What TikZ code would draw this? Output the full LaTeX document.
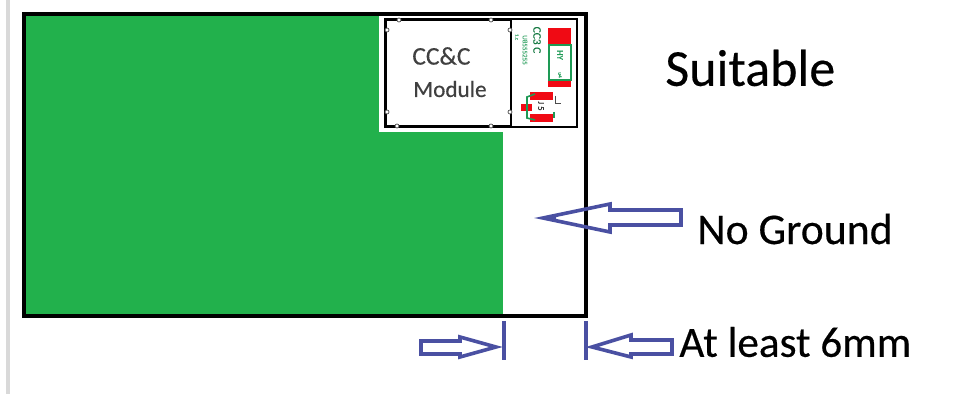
\documentclass[tikz,border=0pt]{standalone}
\usepackage{fontspec}
\setmainfont{Carlito}[FakeBold=0.35]
\definecolor{gndgreen}{HTML}{22B14C}
\definecolor{arrowblue}{HTML}{4A50A2}
\definecolor{padred}{HTML}{F00A14}
\definecolor{silkgreen}{HTML}{1E9A55}
\tikzset{
board/.style={black,line width=4.4\pxu},
thinbox/.style={black,line width=1.4\pxu},
blockarrow/.style={arrowblue,line width=3.6\pxu,line join=miter},
tick/.style={arrowblue,line width=3.4\pxu},
bigtext/.style={anchor=west,inner sep=0pt,text=black},
modtext/.style={anchor=west,inner sep=0pt,text=black!75},
silk/.style={silkgreen,line width=1.6\pxu},
}
\newcommand{\pxu}{*0.5691pt}
\begin{document}
\begin{tikzpicture}[x=0.02cm,y=-0.02cm]
\useasboundingbox (0,0) rectangle (954,394);
\fill[black!15](6,0) rectangle (10,394);
% ground area with cut out corner
\fill[gndgreen](24,14) rectangle (503,316);
\fill[white](379,16) rectangle (584,132);
\draw[board](24,14) rectangle (586,316);
% module
\draw[thinbox](385,19) rectangle (577,127);
\draw[black,line width=2\pxu](386,20) rectangle (511,126);
\foreach \x in {399,491}{\draw[black!70,fill=white,line width=.7\pxu](\x,20) circle (2);}
\foreach \x in {397,491}{\draw[black!70,fill=white,line width=.7\pxu](\x,126) circle (2);}
\foreach \y in {30,112}{
\draw[black!70,fill=white,line width=.7\pxu](387,\y) circle (2);
\draw[black!70,fill=white,line width=.7\pxu](510,\y) circle (2);
}
\node[modtext,font=\fontsize{14.5}{16}\selectfont] (cclabel) at (412,56) {CC\&C};
\node[modtext,font=\fontsize{13.2}{16}\selectfont] (modlabel) at (413,89) {Module};
% parts on the right of the module
\fill[padred](548,28) rectangle (571,45);
\fill[padred](548,80) rectangle (571,87);
\draw[silk](549,45) rectangle (571,80);
\node[silkgreen,rotate=-90,inner sep=0pt,font=\fontsize{5}{5}\selectfont] (hylabel) at (560,55) {HY};
\node[silkgreen,rotate=-90,inner sep=0pt,font=\fontsize{3}{4}\selectfont] (hysmall) at (560,75) {u4};
\node[silkgreen!80!black,rotate=-90,inner sep=0pt,font=\fontsize{6.5}{7}\selectfont] (cclab) at (537,40) {CC3 C};
\node[silkgreen!80,rotate=-90,inner sep=0pt,font=\fontsize{4}{4}\selectfont] (partlab) at (525,50) {U8555255};
\node[silkgreen!80,rotate=-90,inner sep=0pt,font=\fontsize{3}{4}\selectfont] (pinlab) at (517,37) {1.c};
\fill[padred](530,92) rectangle (553,100);
\fill[padred](530,114) rectangle (553,122);
\fill[padred](521,104) rectangle (532,111);
\draw[silk](535,94)--(527,97)--(527,118)--(535,120);
\draw[silkgreen,line width=1.6\pxu](554,112)--(554,118);
\draw[black!70,line width=.9\pxu](555,96)--(555,103)--(561,103);
\node[black!80,rotate=-90,inner sep=0pt,font=\fontsize{5}{6}\selectfont] (jlabel) at (541,106) {J 5};
% labels
\node[bigtext,font=\fontsize{29.6}{32}\selectfont] (suitable) at (665,68) {Suitable};
\node[bigtext,font=\fontsize{24.9}{28}\selectfont] (noground) at (697,229) {No Ground};
\node[bigtext,font=\fontsize{24.6}{28}\selectfont] (atleast) at (679,342) {At least 6mm};
% arrows
\draw[blockarrow](681,210)--(681,225)--(610,225)--(610,232)--(543,218)--(610,204)--(610,210)--cycle;
\fill[arrowblue](541,218)--(556,214.5)--(556,221.5)--cycle;
\draw[blockarrow](421,341)--(460,341)--(460,337)--(496,347)--(460,357)--(460,354)--(421,354)--cycle;
\draw[blockarrow](672,340)--(631,340)--(631,335)--(592,347)--(631,357)--(631,354)--(672,354)--cycle;
\draw[tick](504,321)--(504,360);
\draw[tick](586,321)--(586,360);
\end{tikzpicture}
\end{document}
